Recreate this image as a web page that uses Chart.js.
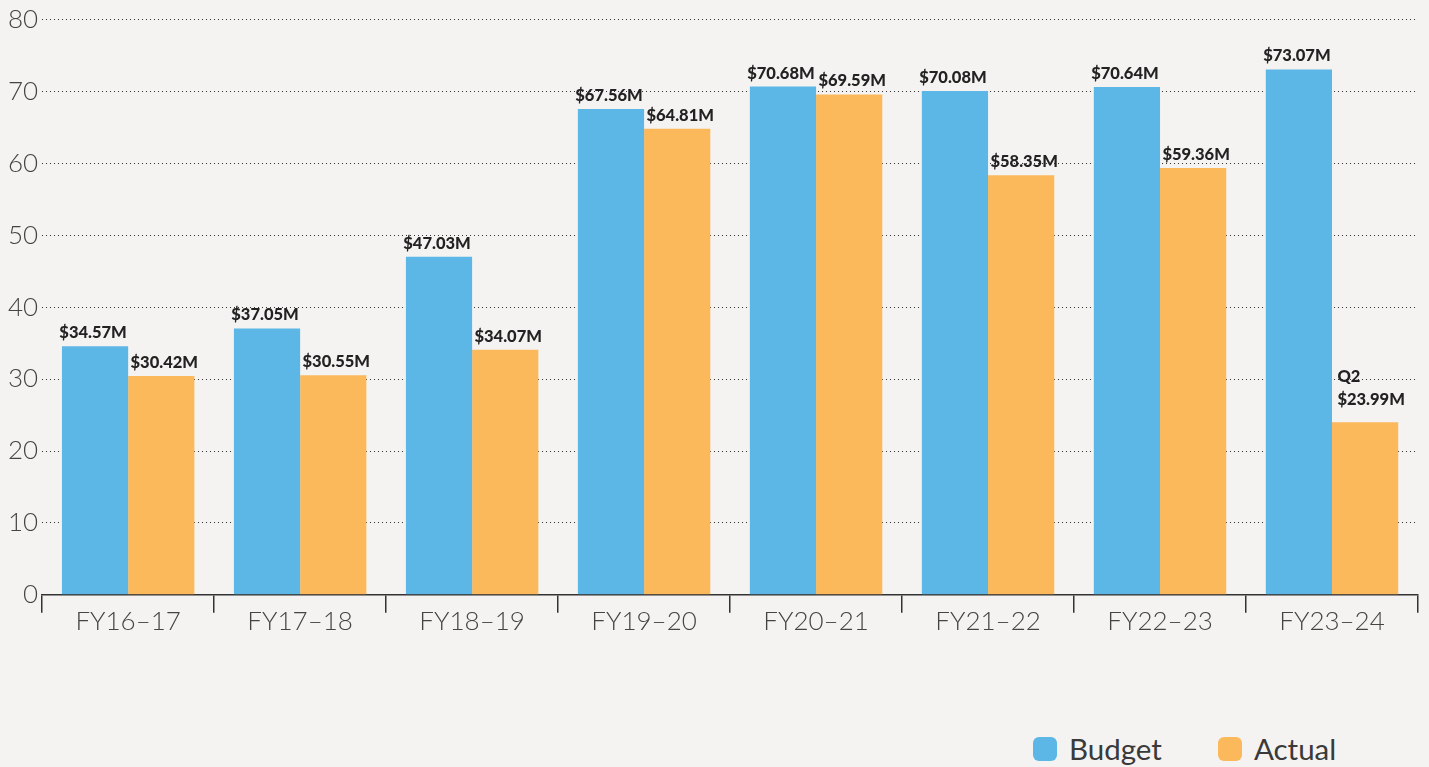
<!DOCTYPE html>
<html>
<head>
<meta charset="utf-8">
<script src="https://cdn.jsdelivr.net/npm/chart.js@4/dist/chart.umd.min.js"></script>
<style>
  html, body { margin: 0; padding: 0; background: #f4f3f1; }
  #wrap { position: relative; width: 1429px; height: 767px; }
  #chartBox { position: absolute; left: 0; top: 0; width: 1429px; height: 630px; }
  #legend { position: absolute; left: 1033px; top: 731px; display: flex; font-family: Lato, "Open Sans", sans-serif; font-size: 29.5px; color: #3a3a3a; }
  .item { display: flex; align-items: center; margin-right: 56px; }
  .swatch { width: 24px; height: 24px; border-radius: 6px; margin-right: 12px; }
</style>
</head>
<body>
<div id="wrap">
  <div id="chartBox"><canvas id="budgetChart"></canvas></div>
  <div id="legend"></div>
</div>
<script>
// Fiscal years on the x axis
const years = ['FY16–17', 'FY17–18', 'FY18–19', 'FY19–20', 'FY20–21', 'FY21–22', 'FY22–23', 'FY23–24'];

// Millions of dollars
const budget = [34.57, 37.05, 47.03, 67.56, 70.68, 70.08, 70.64, 73.07];
const actual = [30.42, 30.55, 34.07, 64.81, 69.59, 58.35, 59.36, 23.99];

// Extra note shown above some actual labels
const actualNotes = ['', '', '', '', '', '', '', 'Q2'];

const yTicks = [0, 10, 20, 30, 40, 50, 60, 70, 80];

const blue = '#5cb7e6';
const orange = '#fbb95b';

// Draws the "$xx.xxM" value above each bar
const valueLabels = {
    id: 'valueLabels',
    afterDatasetsDraw(chart) {
        const ctx = chart.ctx;
        ctx.save();
        ctx.fillStyle = '#222';
        ctx.font = '900 16.5px Lato, "Open Sans", sans-serif';
        ctx.textBaseline = 'alphabetic';
        chart.data.datasets.forEach((ds, di) => {
            chart.getDatasetMeta(di).data.forEach((bar, i) => {
                const text = '$' + ds.data[i].toFixed(2) + 'M';
                const note = di === 1 ? actualNotes[i] : '';
                if (note) {
                    const w = ctx.measureText(text).width;
                    const x0 = bar.x - w / 2 + 6;
                    ctx.textAlign = 'left';
                    ctx.fillText(text, x0, bar.y - 17);
                    ctx.fillText(note, x0, bar.y - 40);
                } else {
                    // nudge labels of a pair apart a little
                    const shift = di === 0 ? -2 : 3;
                    ctx.textAlign = 'center';
                    ctx.fillText(text, bar.x + shift, bar.y - 8);
                }
            });
        });
        ctx.restore();
    }
};

const chartData = {
    labels: years,
    datasets: [
        { label: 'Budget', data: budget, backgroundColor: blue },
        { label: 'Actual', data: actual, backgroundColor: orange }
    ]
};

const chartOptions = {
    responsive: true,
    maintainAspectRatio: false,
    animation: false,
    layout: { padding: { top: 8, right: 11, left: 4, bottom: 0 } },
    datasets: {
        bar: { categoryPercentage: 0.77, barPercentage: 1.0 }
    },
    scales: {
        x: {
            grid: {
                offset: true,
                drawOnChartArea: false,
                tickLength: 18,
                color: '#333',
                lineWidth: 1.5
            },
            border: { color: '#333', width: 1.5 },
            ticks: {
                color: '#444',
                padding: -7,
                font: { family: 'Lato, "Open Sans", sans-serif', size: 26, weight: 300 }
            }
        },
        y: {
            min: 0,
            max: 80,
            afterBuildTicks: axis => { axis.ticks = yTicks.map(v => ({ value: v })); },
            grid: {
                color: '#333',
                lineWidth: 1,
                drawTicks: false
            },
            border: { display: false, dash: [1, 3] },
            ticks: {
                color: '#444',
                padding: 4,
                font: { family: 'Lato, "Open Sans", sans-serif', size: 26, weight: 300 }
            }
        }
    },
    plugins: {
        legend: { display: false },
        tooltip: { enabled: false }
    }
};

const chart = new Chart(document.getElementById('budgetChart'), {
    type: 'bar',
    data: chartData,
    options: chartOptions,
    plugins: [valueLabels]
});

// HTML legend built from the datasets
const legendEl = document.getElementById('legend');
chart.data.datasets.forEach(ds => {
    const item = document.createElement('div');
    item.className = 'item';
    item.innerHTML = '<span class="swatch" style="background:' + ds.backgroundColor + '"></span>' + ds.label;
    legendEl.appendChild(item);
});
</script>
</body>
</html>
